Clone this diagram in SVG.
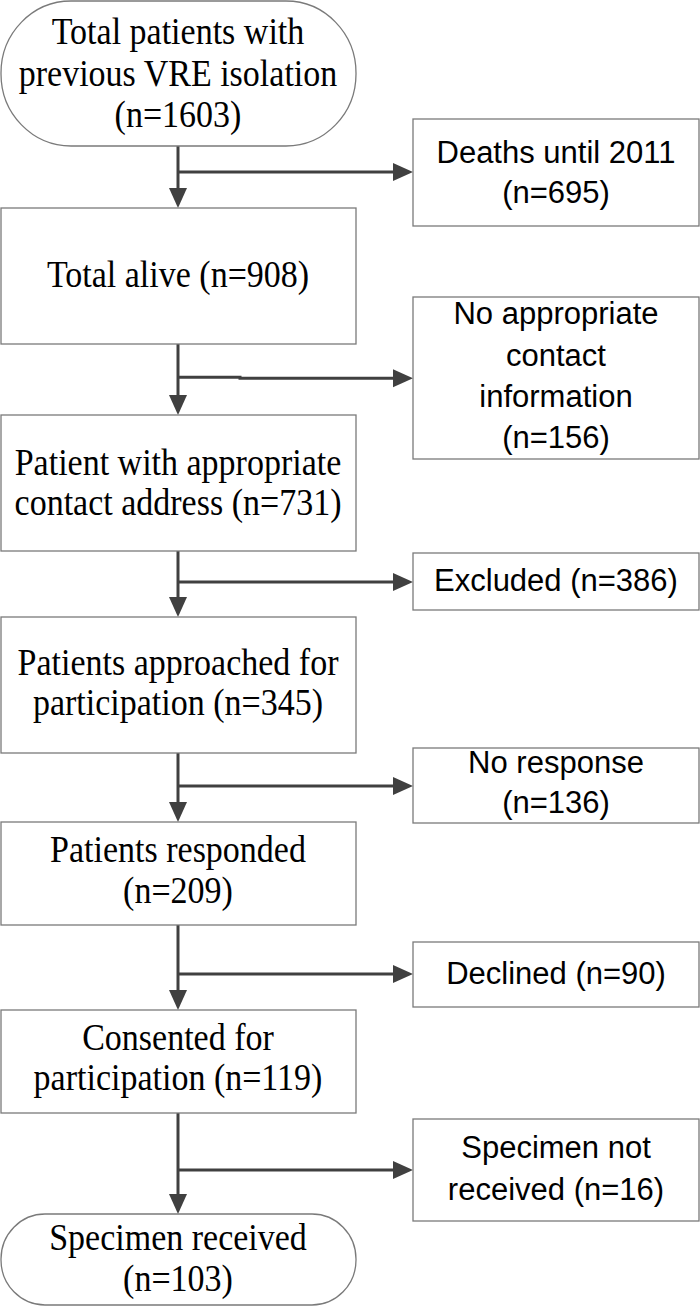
<svg xmlns="http://www.w3.org/2000/svg" width="700" height="1307" viewBox="0 0 700 1307">
<style>
.box{fill:#fff;stroke:#7a7a7a;stroke-width:1.3}
.serif{font-family:"Liberation Serif","Times New Roman",serif;font-size:34px;fill:#000;text-anchor:middle}
.sans{font-family:"Liberation Sans",Arial,sans-serif;font-size:31px;fill:#000;text-anchor:middle}
.conn{fill:none;stroke:#404040;stroke-width:3;marker-end:url(#arr)}
</style>
<defs>
<marker id="arr" markerUnits="userSpaceOnUse" markerWidth="22" markerHeight="20" refX="10" refY="9" orient="auto">
<path d="M0,0 L20,9 L0,18 z" fill="#404040"/>
</marker>
</defs>
<rect width="700" height="1307" fill="#fff"/>
<g id="connectors">
<path class="conn" d="M178,146 V198"/>
<path class="conn" d="M178,172 H403"/>
<path class="conn" d="M178,344 V405"/>
<path class="conn" d="M178,377.2 H240 V378.2 H403"/>
<path class="conn" d="M178,551 V607"/>
<path class="conn" d="M178,582 H403"/>
<path class="conn" d="M178,753 V812"/>
<path class="conn" d="M178,786 H403"/>
<path class="conn" d="M178,925 V1000"/>
<path class="conn" d="M178,974 H403"/>
<path class="conn" d="M178,1113 V1204"/>
<path class="conn" d="M178,1170 H403"/>
</g>
<g id="n-total">
<rect class="box" x="1" y="1" width="355" height="145" rx="70" ry="72"/>
<text class="serif" transform="translate(178,44) scale(1,1.1)">Total patients with</text>
<text class="serif" transform="translate(178,86) scale(1,1.1)">previous VRE isolation</text>
<text class="serif" transform="translate(178,127) scale(1,1.1)">(n=1603)</text>
</g>
<g id="n-deaths">
<rect class="box" x="413" y="119" width="286" height="107"/>
<text class="sans" x="556" y="163">Deaths until 2011</text>
<text class="sans" x="556" y="203">(n=695)</text>
</g>
<g id="n-alive">
<rect class="box" x="1" y="208" width="355" height="136"/>
<text class="serif" transform="translate(178,287) scale(1,1.1)">Total alive (n=908)</text>
</g>
<g id="n-nocontact">
<rect class="box" x="413" y="297" width="286" height="162"/>
<text class="sans" x="556" y="324">No appropriate</text>
<text class="sans" x="556" y="366">contact</text>
<text class="sans" x="556" y="407">information</text>
<text class="sans" x="556" y="448">(n=156)</text>
</g>
<g id="n-address">
<rect class="box" x="1" y="415" width="355" height="136"/>
<text class="serif" transform="translate(178,475) scale(1,1.1)">Patient with appropriate</text>
<text class="serif" transform="translate(178,515) scale(1,1.1)">contact address (n=731)</text>
</g>
<g id="n-excluded">
<rect class="box" x="413" y="553" width="286" height="57"/>
<text class="sans" x="556" y="591">Excluded (n=386)</text>
</g>
<g id="n-approached">
<rect class="box" x="1" y="617" width="355" height="136"/>
<text class="serif" transform="translate(178,675) scale(1,1.1)">Patients approached for</text>
<text class="serif" transform="translate(178,715) scale(1,1.1)">participation (n=345)</text>
</g>
<g id="n-noresponse">
<rect class="box" x="413" y="748" width="286" height="75"/>
<text class="sans" x="556" y="773">No response</text>
<text class="sans" x="556" y="813">(n=136)</text>
</g>
<g id="n-responded">
<rect class="box" x="1" y="822" width="355" height="103"/>
<text class="serif" transform="translate(178,862) scale(1,1.1)">Patients responded</text>
<text class="serif" transform="translate(178,903) scale(1,1.1)">(n=209)</text>
</g>
<g id="n-declined">
<rect class="box" x="413" y="942" width="286" height="65"/>
<text class="sans" x="556" y="984">Declined (n=90)</text>
</g>
<g id="n-consented">
<rect class="box" x="1" y="1010" width="355" height="103"/>
<text class="serif" transform="translate(178,1050) scale(1,1.1)">Consented for</text>
<text class="serif" transform="translate(178,1090) scale(1,1.1)">participation (n=119)</text>
</g>
<g id="n-notreceived">
<rect class="box" x="413" y="1119" width="286" height="102"/>
<text class="sans" x="556" y="1158">Specimen not</text>
<text class="sans" x="556" y="1200">received (n=16)</text>
</g>
<g id="n-received">
<rect class="box" x="1" y="1214" width="355" height="91" rx="44" ry="45"/>
<text class="serif" transform="translate(178,1250) scale(1,1.1)">Specimen received</text>
<text class="serif" transform="translate(178,1291) scale(1,1.1)">(n=103)</text>
</g>
</svg>
